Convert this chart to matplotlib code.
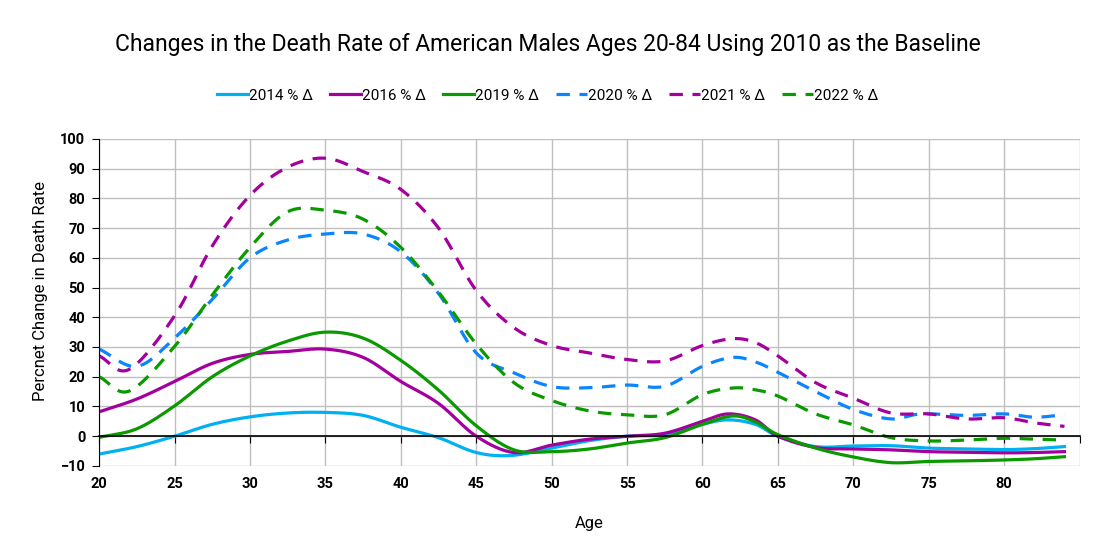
import numpy as np
import matplotlib
matplotlib.use("Agg")
import matplotlib.pyplot as plt

plt.rcParams["font.family"] = ["Roboto", "DejaVu Sans"]

# values (percent change vs 2010)
ages_2014 = [20, 22.5, 25, 27.5, 30, 32.5, 35, 37.5, 40, 42.5, 45, 47.3, 50, 52.5, 55, 57.5, 60, 61.7, 63.5, 65, 67.5, 70, 72.5, 75, 77.5, 80, 82, 84]
vals_2014 = [-6, -3.5, 0, 4, 6.5, 7.8, 8, 7, 3, -0.5, -5.5, -6.5, -4, -1.5, 0, 0.5, 4, 5.5, 4, 0, -3.5, -3.3, -3.2, -4, -4.3, -4.5, -4.2, -3.5]

ages_2016 = [20, 22.5, 25, 27.5, 30, 32.5, 35, 37.5, 40, 42.5, 45, 47.5, 50, 52.5, 55, 57.5, 60, 61.7, 63.5, 65, 67.5, 70, 72.5, 75, 77.5, 80, 82, 84]
vals_2016 = [8.2, 12.5, 18.4, 24.5, 27.5, 28.5, 29.3, 26.5, 18.4, 11, 0, -5.5, -3, -1, 0, 1, 5, 7.5, 5.5, 0, -3.8, -4.3, -4.6, -5.2, -5.4, -5.6, -5.5, -5.2]

ages_2019 = [20, 22.5, 25, 27.5, 30, 32.5, 35, 37.5, 40, 42.5, 45, 47.5, 50, 52.5, 55, 57.5, 60, 62, 63.5, 65, 67.5, 70, 72.5, 75, 77.5, 80, 82, 84]
vals_2019 = [-0.4, 2.5, 10.2, 20, 27, 32, 35, 33, 25.5, 15.5, 3.5, -4.6, -5.2, -4.3, -2.3, -0.5, 4, 6.8, 4.8, 0.5, -4, -7, -8.9, -8.5, -8.3, -8, -7.6, -6.9]

ages_2020 = [20, 22.5, 25, 27.5, 30, 32.5, 35, 37.5, 40, 42.5, 45, 47.5, 50, 52.5, 55, 57.5, 60, 62, 63.5, 65, 67.5, 70, 72.5, 74.5, 77.5, 80, 82, 84]
vals_2020 = [29.3, 23.5, 33, 46, 60, 66, 68, 68, 62, 48, 28, 21.3, 16.7, 16.3, 17.2, 16.8, 23.5, 26.5, 25, 21.5, 15, 9, 5.8, 7.5, 7, 7.5, 6.4, 7.2]

ages_2021 = [20, 22, 25, 27.5, 30, 32.5, 35, 37.5, 40, 42.5, 45, 47.5, 50, 52.5, 55, 57.5, 60, 62, 63.5, 65, 67.5, 70, 72.5, 75, 77.5, 80, 82, 84]
vals_2021 = [27, 22.5, 40.5, 64, 81, 90.5, 93.5, 89, 83, 70, 49, 36.5, 30.5, 28, 25.8, 25.3, 30.5, 32.8, 31.5, 27, 18, 12.8, 7.8, 7.5, 5.8, 6.2, 4.5, 3.3]

ages_2022 = [20, 22, 25, 27.5, 30, 32.5, 35, 37.5, 40, 42.5, 45, 47.5, 50, 52.5, 55, 57.5, 60, 62, 63.5, 65, 67.5, 70, 72.5, 75, 77.5, 80, 82, 84]
vals_2022 = [20, 15.2, 30.2, 47.5, 63.5, 75.5, 76, 73, 63.5, 48.5, 31, 18, 12, 8.5, 7.2, 7.2, 14, 16.2, 15.6, 13.5, 7.5, 3.8, -0.5, -1.6, -1.3, -0.7, -1, -1.3]

labels = ["2014 % Δ", "2016 % Δ", "2019 % Δ", "2020 % Δ", "2021 % Δ", "2022 % Δ"]
colors = ["#00B0F0", "#A4009E", "#0A9A00", "#0A84FF", "#A4009E", "#0A9A00"]
dash = (0, (4.2, 3.0))
styles = ["-", "-", "-", dash, dash, dash]


def smooth(xs, ys, n=24):
    # catmull-rom through the points, like excel's smoothed line
    p = np.column_stack([xs, ys]).astype(float)
    p = np.vstack([p[0] * 2 - p[1], p, p[-1] * 2 - p[-2]])
    t = np.linspace(0, 1, n, endpoint=False)[:, None]
    out = []
    for i in range(1, len(p) - 2):
        p0, p1, p2, p3 = p[i - 1], p[i], p[i + 1], p[i + 2]
        seg = 0.5 * ((2 * p1) + (-p0 + p2) * t + (2 * p0 - 5 * p1 + 4 * p2 - p3) * t ** 2
                     + (-p0 + 3 * p1 - 3 * p2 + p3) * t ** 3)
        out.append(seg)
    out.append(p[-2][None, :])
    out = np.vstack(out)
    return out[:, 0], out[:, 1]


series = [(ages_2014, vals_2014), (ages_2016, vals_2016), (ages_2019, vals_2019),
          (ages_2020, vals_2020), (ages_2021, vals_2021), (ages_2022, vals_2022)]

fig = plt.figure(figsize=(10.96, 5.6), dpi=100)
ax = fig.add_axes([0.0905, 0.168, 0.8945, 0.584])

for (xs, ys), lab, c, ls in zip(series, labels, colors, styles):
    sx, sy = smooth(xs, ys)
    ax.plot(sx, sy, color=c, lw=2.3, ls=ls, label=lab)

ax.set_xlim(20, 85)
ax.set_ylim(-10, 100)
ax.set_yticks(np.arange(-10, 101, 10))
ax.set_xticks(np.arange(20, 86, 5))
ax.grid(True, color="#BFBFBF", lw=1)
ax.set_axisbelow(True)

for s in ["top", "right"]:
    ax.spines[s].set_visible(False)
ax.spines["left"].set_color("black")
ax.spines["bottom"].set_position(("data", 0))
ax.spines["bottom"].set_color("black")
ax.spines["bottom"].set_linewidth(1.2)
ax.tick_params(axis="x", direction="out", length=5, labelbottom=False, color="black")
ax.tick_params(axis="y", direction="out", length=5, labelsize=10.5, pad=5)
for t in ax.get_yticklabels():
    t.set_fontweight("bold")

sec = ax.secondary_xaxis("bottom")
sec.set_xticks(np.arange(20, 81, 5))
sec.tick_params(length=0, labelsize=10.5, pad=8)
sec.spines["bottom"].set_visible(False)
for t in sec.get_xticklabels():
    t.set_fontweight("bold")

ax.set_ylabel("Percnet Change in Death Rate", fontsize=12)
ax.yaxis.set_label_coords(-0.052, 0.535)
sec.set_xlabel("Age", fontsize=12, labelpad=18)

fig.text(0.5, 0.92, "Changes in the Death Rate of American Males Ages 20-84 Using 2010 as the Baseline",
         ha="center", va="center", fontsize=16.5)
fig.legend(loc="center", bbox_to_anchor=(0.5, 0.829), ncol=6, frameon=False, fontsize=11,
           handlelength=2.0, handletextpad=0.1, columnspacing=1.1)

fig.savefig("out.png", dpi=100)
